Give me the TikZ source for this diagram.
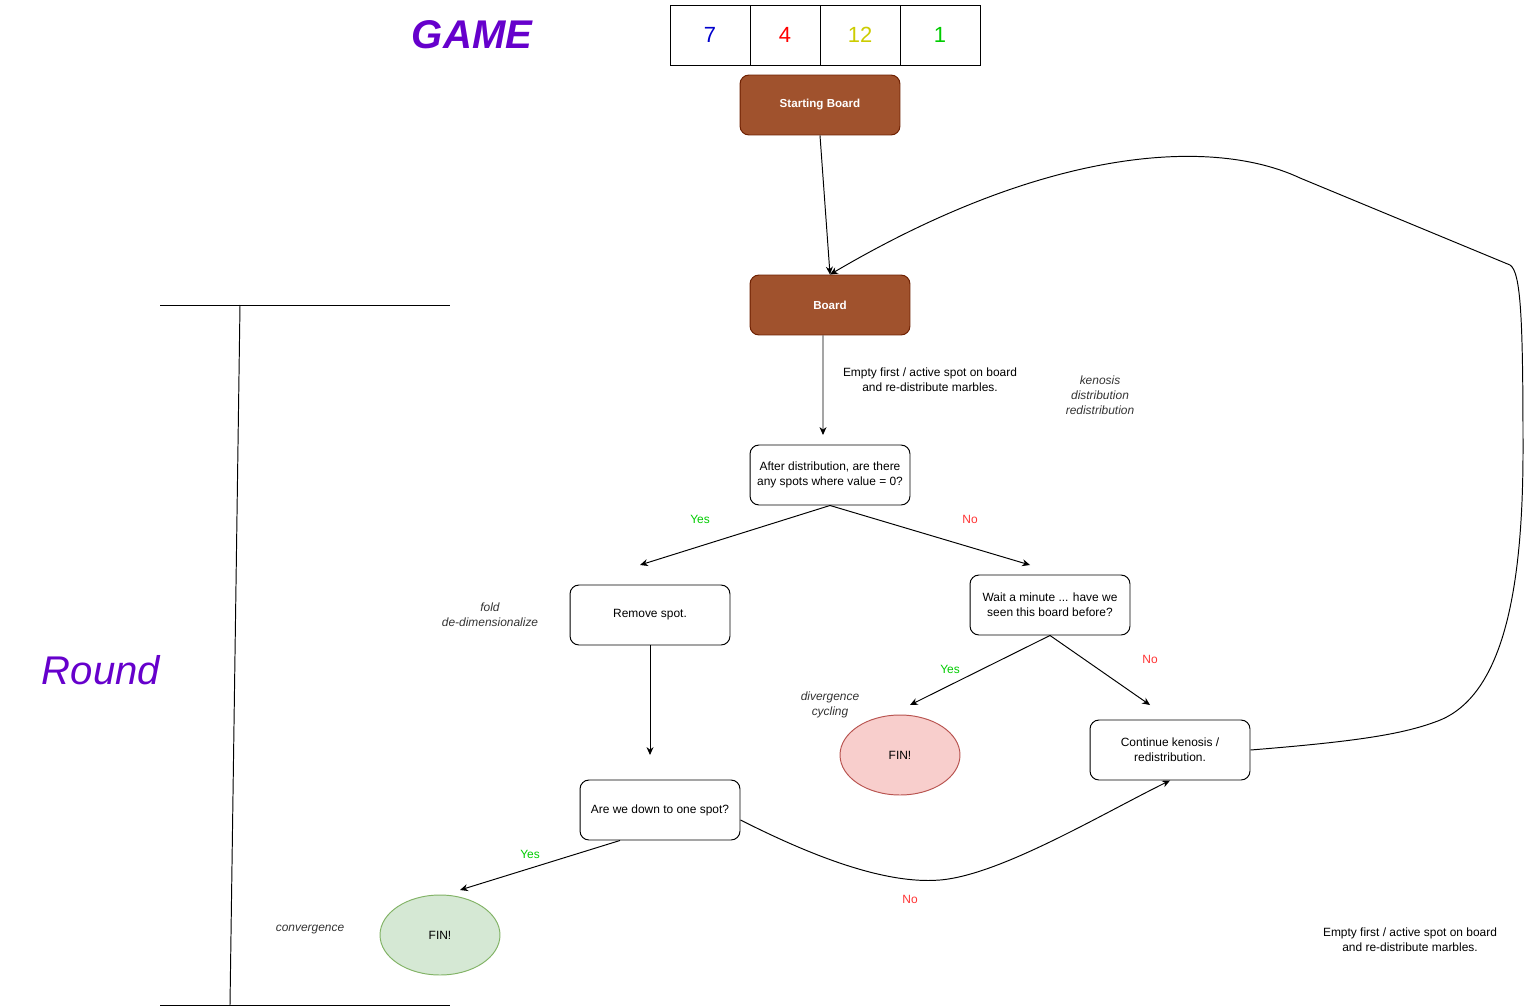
\documentclass[tikz,border=0pt]{standalone}
\usepackage{fontspec}
\setmainfont{Liberation Sans}
\usepackage{xcolor}
\definecolor{BoardFill}{HTML}{A0522D}
\definecolor{BoardLine}{HTML}{6D1F00}
\definecolor{GamePurple}{HTML}{6600CC}
\definecolor{YesGreen}{HTML}{00CC00}
\definecolor{NoRed}{HTML}{FF3333}
\definecolor{FinRedFill}{HTML}{F8CECC}
\definecolor{FinRedLine}{HTML}{B85450}
\definecolor{FinGreenFill}{HTML}{D5E8D4}
\definecolor{FinGreenLine}{HTML}{82B366}
\definecolor{CellBlue}{HTML}{0000CC}
\definecolor{CellRed}{HTML}{FF0000}
\definecolor{CellYellow}{HTML}{CCCC00}
\definecolor{CellGreen}{HTML}{00CC00}
\usepackage{tikz}
\usetikzlibrary{arrows.meta,shapes.geometric}

\begin{document}
\begin{tikzpicture}[x=0.02cm, y=-0.02cm, >={Stealth[length=4.5pt,width=4pt]}, line width=0.55pt,
  every node/.style={font=\fontsize{6.8}{8.5}\selectfont, align=center},
  stepbox/.style={draw, rounded corners=0.18cm, minimum width=3.2cm, minimum height=1.2cm, inner sep=1pt},
  boardbox/.style={stepbox, fill=BoardFill, draw=BoardLine, text=white, font=\fontsize{6.6}{8.5}\selectfont\bfseries},
  finnode/.style={ellipse, draw, minimum width=2.4cm, minimum height=1.6cm},
  cell/.style={draw, minimum height=1.2cm, font=\fontsize{12.5}{14}\selectfont},
  note/.style={font=\fontsize{6.8}{8.5}\selectfont\itshape, text=black!80},
  yeslabel/.style={text=YesGreen},
  nolabel/.style={text=NoRed}]
  \useasboundingbox (0,0) rectangle (1524,1007);

  % title and the starting row
  \node[text=GamePurple, font=\fontsize{22.8}{26}\selectfont\bfseries\itshape] (game) at (472,35) {GAME};
  \node[cell, minimum width=1.6cm, text=CellBlue] (cella) at (710,35) {7};
  \node[cell, minimum width=1.4cm, text=CellRed] (cellb) at (785,35) {4};
  \node[cell, minimum width=1.6cm, text=CellYellow] (cellc) at (860,35) {12};
  \node[cell, minimum width=1.6cm, text=CellGreen] (celld) at (940,35) {1};

  % round bracket
  \node[text=GamePurple, font=\fontsize{22.8}{26}\selectfont\itshape] (round) at (101,670) {Round};
  \draw (160,305) -- (450,305);
  \draw (240,305) -- (230,1005);
  \draw (160,1005) -- (450,1005);

  % flow
  \node[boardbox] (start) at (820,105) {Starting Board};
  \node[boardbox] (board) at (830,305) {Board};
  \node[stepbox] (dist) at (830,475) {After distribution, are there\\any spots where value = 0?};
  \node[stepbox] (remove) at (650,615) {Remove spot.};
  \node[stepbox] (seen) at (1050,605) {Wait a minute ... have we\\seen this board before?};
  \node[finnode, fill=FinRedFill, draw=FinRedLine] (finred) at (900,755) {FIN!};
  \node[stepbox] (cont) at (1170,750) {Continue kenosis /\\redistribution.};
  \node[stepbox] (one) at (660,810) {Are we down to one spot?};
  \node[finnode, fill=FinGreenFill, draw=FinGreenLine] (fingreen) at (440,935) {FIN!};

  % free arrow ends
  \coordinate (distin) at (823,435);
  \coordinate (yesin) at (640,565);
  \coordinate (noin) at (1030,565);
  \coordinate (onein) at (650,755);
  \coordinate (cyclein) at (910,705);
  \coordinate (contin) at (1150,705);
  \coordinate (convin) at (460,890);

  \draw[->] (start.south) -- (board.north);
  \draw[->] ([xshift=-0.14cm]board.south) -- (distin);
  \draw[->] (dist.south) -- (yesin);
  \draw[->] (dist.south) -- (noin);
  \draw[->] (remove.south) -- (onein);
  \draw[->] (seen.south) -- (cyclein);
  \draw[->] (seen.south) -- (contin);
  \draw[->] ([xshift=-0.8cm]one.south) -- (convin);
  \draw[->] ([yshift=-0.2cm]one.east) .. controls (800,850) and (880,885) .. (940,880)
    .. controls (1000,875) and (1100,815) .. (cont.south);
  \draw[->] (cont.east) .. controls (1350,742) and (1400,735) .. (1435,722)
    .. controls (1500,700) and (1523,600) .. (1523,450)
    .. controls (1523,320) and (1521,272) .. (1510,265)
    -- (1300,178) .. controls (1215,138) and (1050,145) .. (board.north);

  % labels
  \node[yeslabel] (yesa) at (700,519) {Yes};
  \node[nolabel] (noa) at (970,519) {No};
  \node[yeslabel] (yesb) at (950,669) {Yes};
  \node[nolabel] (nob) at (1150,659) {No};
  \node[yeslabel] (yesc) at (530,854) {Yes};
  \node[nolabel] (noc) at (910,899) {No};

  % notes
  \node (empty) at (930,380) {Empty first / active spot on board\\and re-distribute marbles.};
  \node (emptyb) at (1410,940) {Empty first / active spot on board\\and re-distribute marbles.};
  \node[note] (kenosis) at (1100,395) {kenosis\\distribution\\redistribution};
  \node[note] (fold) at (490,615) {fold\\de-dimensionalize};
  \node[note] (diverge) at (830,705) {divergence\\cycling};
  \node[note] (converge) at (310,930) {convergence};
\end{tikzpicture}
\end{document}
